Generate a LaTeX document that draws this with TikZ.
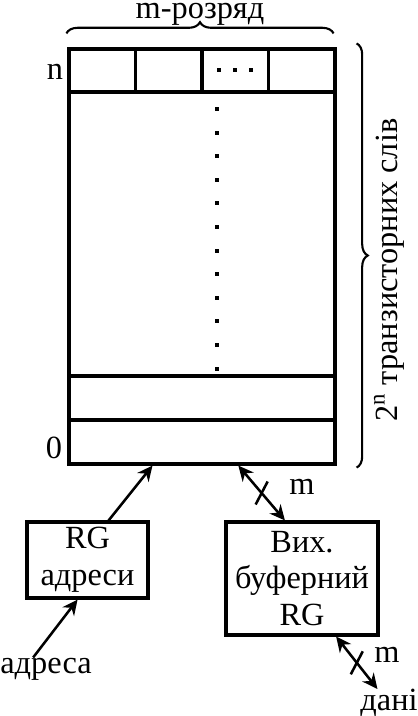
\documentclass[tikz,border=0pt]{standalone}
\usepackage{fontspec}
\setmainfont{Liberation Serif}
\usetikzlibrary{arrows.meta,calc,decorations.pathreplacing}
\begin{document}
\begin{tikzpicture}[
          x=0.025cm, y=-0.025cm,
          every node/.style={font=\fontsize{23}{26}\selectfont, align=center, inner sep=0pt},
          frame/.style={draw, line width=2.2pt},
          cell/.style={frame, minimum width=1.6625cm, minimum height=1.075cm},
          wordrow/.style={frame, minimum width=6.65cm, minimum height=1.1cm},
          link/.style={line width=1.8pt, -{Stealth[length=0.38cm, width=0.36cm]}},
          bus/.style={line width=1.8pt, {Stealth[length=0.38cm, width=0.36cm]}-{Stealth[length=0.38cm, width=0.36cm]}},
          busmark/.style={line width=1.8pt},
          bracket/.style={decorate, decoration={brace, amplitude=0.28cm}, line width=1.5pt}
        ]
        \useasboundingbox (0,0) rectangle (417,716);

        % Memory array
        \node[frame, minimum width=6.65cm, minimum height=10.375cm] (mem) at (202,256.5) {};
        \foreach \i in {1,...,4}
          \node[cell] (c\i) at ({69+66.5*(\i-0.5)},70.5) {};
        \node[wordrow] (row1) at (202,398) {};
        \node[wordrow] (row0) at (202,442) {};
        \node (nlabel) at (55,72) {n};
        \node (zlabel) at (54,448) {0};

        % Dots
        \foreach \k in {-1,0,1}
          \fill ($(c3.center)+(16*\k-2,-2)$) rectangle ++(4,4);
        \foreach \k in {0,...,11}
          \fill (215,{107+23.6*\k}) rectangle ++(4,4);

        % Braces
        \draw[bracket] ($(mem.north west)+(-1,-14)$) -- ($(mem.north east)+(-3,-14)$);
        \node[anchor=base] (bits) at (200,19) {m-розряд};
        \draw[bracket] ($(mem.north east)+(20,-4)$) -- ($(mem.south east)+(20,2)$);
        \node[rotate=90] (words) at (389,270) {2\textsuperscript{n} транзисторних слів};

        % Registers
        \node[frame, minimum width=3.025cm, minimum height=1.9cm] (rgaddr) at (87.5,560) {RG\\адреси};
        \node[frame, minimum width=3.8cm, minimum height=2.825cm] (rgbuf) at (302,578.5) {Вих.\\буферний\\RG};
        \node[anchor=base] (addr) at (46,673) {адреса};
        \node[anchor=north] (data) at (389,689) {дані};

        % Connectors
        \coordinate (memin) at ($(mem.south west)!0.316!(mem.south east)$);
        \coordinate (memio) at ($(mem.south west)!0.635!(mem.south east)$);
        \coordinate (rgout) at ($(rgaddr.north west)!0.67!(rgaddr.north east)$);
        \coordinate (rgin) at ($(rgaddr.south west)!0.42!(rgaddr.south east)$);
        \coordinate (bufin) at ($(rgbuf.north west)!0.39!(rgbuf.north east)$);
        \coordinate (bufout) at ($(rgbuf.south west)!0.72!(rgbuf.south east)$);
        \coordinate (addrout) at ($(addr.north west)!0.36!(addr.north east)$);
        \coordinate (datain) at ($(data.north west)!0.3!(data.north east)$);

        \draw[link] (addrout) -- (rgin);
        \draw[link] (rgout) -- (memin);
        \draw[bus] (memio) -- (bufin);
        \draw[busmark] ($(memio)!0.5!(bufin)$) +(-6,11.5) -- +(6,-11.5);
        \node (mbus) at (302,487) {m};
        \draw[bus] (bufout) -- (datain);
        \draw[busmark] ($(bufout)!0.5!(datain)$) +(-6,11.5) -- +(6,-11.5);
        \node (mdata) at (387,655) {m};

      \end{tikzpicture}
\end{document}
